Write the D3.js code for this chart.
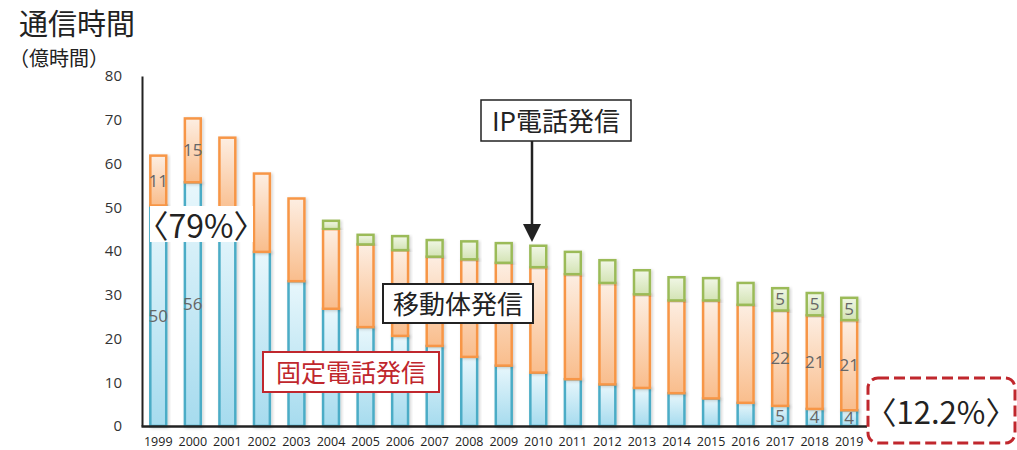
<!DOCTYPE html>
<html>
<head>
<meta charset="utf-8">
<script src="https://cdn.jsdelivr.net/npm/d3@7"></script>
<style>
  body { margin: 0; background: #fff; }
  svg { display: block; }
</style>
</head>
<body>
<div id="chart"></div>
<script>
// chart data (億時間)
const years = ["1999","2000","2001","2002","2003","2004","2005","2006","2007","2008","2009",
               "2010","2011","2012","2013","2014","2015","2016","2017","2018","2019"];
const fixedCalls  = [50.4, 55.7, 48.5, 39.8, 33.1, 26.8, 22.6, 20.6, 18.3, 15.8, 13.8,
                     12.2, 10.7, 9.5, 8.7, 7.5, 6.3, 5.3, 4.6, 3.9, 3.6];
const mobileCalls = [11.4, 14.6, 17.4, 17.9, 18.9, 18.2, 18.9, 19.6, 20.4, 22.3, 23.5,
                     24.1, 24.0, 23.2, 21.4, 21.2, 22.4, 22.4, 21.8, 21.4, 20.6];
const ipCalls     = [0, 0, 0, 0, 0, 1.9, 2.2, 3.2, 3.8, 4.1, 4.5,
                     4.9, 5.1, 5.2, 5.5, 5.3, 5.1, 5.0, 5.1, 5.1, 5.1];
const yTicks = [0, 10, 20, 30, 40, 50, 60, 70, 80];
const labelledYears = ["1999", "2000", "2017", "2018", "2019"];

const width = 1017;
const height = 450;
const cjk = "'Noto Sans CJK JP', sans-serif";
const num = "'Open Sans', 'DejaVu Sans', sans-serif";

const svg = d3.select("#chart")
    .append("svg")
    .attr("width", width)
    .attr("height", height);

const rows = years.map((y, i) => ({ year: y, fixed: fixedCalls[i], mobile: mobileCalls[i], ip: ipCalls[i] }));
const keys = ["fixed", "mobile", "ip"];
const stack = d3.stack().keys(keys)(rows);

const x = d3.scaleBand()
    .domain(years)
    .range([141, 866.5])
    .paddingInner(0.54)
    .paddingOuter(0.27);

const y = d3.scaleLinear()
    .domain([0, 80])
    .range([426, 76]);

// colours for each series: stroke, top of gradient, bottom of gradient
const colors = {
    fixed:  { stroke: "#4bacc6", top: "#e8f7fc", bottom: "#a6dbee" },
    mobile: { stroke: "#f79646", top: "#fdeee2", bottom: "#f9bd8c" },
    ip:     { stroke: "#9bbb59", top: "#f1f7e6", bottom: "#d3e3b4" }
};

const defs = svg.append("defs");
keys.forEach(k => {
    const g = defs.append("linearGradient")
        .attr("id", "grad-" + k)
        .attr("x1", "0%").attr("y1", "0%")
        .attr("x2", "0%").attr("y2", "100%");
    g.append("stop").attr("offset", "0%").attr("stop-color", colors[k].top);
    g.append("stop").attr("offset", "100%").attr("stop-color", colors[k].bottom);
});
const shadow = defs.append("filter").attr("id", "shadow")
    .attr("x", "-30%").attr("y", "-10%").attr("width", "160%").attr("height", "120%");
shadow.append("feDropShadow")
    .attr("dx", 1.5).attr("dy", 1).attr("stdDeviation", 1.5)
    .attr("flood-color", "#000").attr("flood-opacity", 0.18);

// title
svg.append("text")
    .attr("x", 19).attr("y", 35)
    .style("font-family", cjk).style("font-size", "29px").attr("fill", "#222")
    .text("通信時間");
svg.append("text")
    .attr("x", 9).attr("y", 66)
    .style("font-family", cjk).style("font-size", "20px").attr("fill", "#222")
    .text("（億時間）");

// bars
const layers = svg.append("g")
    .selectAll("g")
    .data(stack)
    .enter().append("g");

layers.selectAll("rect")
    .data(d => d.map(p => ({ key: d.key, p: p })).filter(e => e.p[1] - e.p[0] > 0))
    .enter().append("rect")
    .attr("x", d => x(d.p.data.year))
    .attr("y", d => y(d.p[1]))
    .attr("width", x.bandwidth())
    .attr("height", d => y(d.p[0]) - y(d.p[1]))
    .attr("fill", d => "url(#grad-" + d.key + ")")
    .attr("stroke", d => colors[d.key].stroke)
    .attr("stroke-width", 2.5)
    .attr("filter", "url(#shadow)");

// value labels
layers.selectAll("text")
    .data(d => d.map(p => ({ key: d.key, p: p }))
        .filter(e => labelledYears.includes(e.p.data.year) && e.p[1] - e.p[0] > 0))
    .enter().append("text")
    .attr("x", d => x(d.p.data.year) + x.bandwidth() / 2)
    .attr("y", d => y((d.p[0] + d.p[1]) / 2))
    .attr("dy", "0.35em")
    .attr("text-anchor", "middle")
    .style("font-family", num).style("font-size", "17px")
    .attr("fill", "#666")
    .text(d => Math.round(d.p[1] - d.p[0]));

// axes
const yAxis = svg.append("g")
    .attr("transform", "translate(142,0)")
    .call(d3.axisLeft(y).tickValues(yTicks).tickSize(0).tickPadding(20));
yAxis.select(".domain").attr("stroke", "#222").attr("stroke-width", 2);
yAxis.selectAll("text")
    .style("font-family", num).style("font-size", "15px").attr("fill", "#333");

const xAxis = svg.append("g")
    .attr("transform", "translate(0,426)")
    .call(d3.axisBottom(x).tickSize(0).tickPadding(11).tickSizeOuter(0));
xAxis.select(".domain").attr("stroke", "#222").attr("stroke-width", 2.5);
xAxis.selectAll("text")
    .style("font-family", num).style("font-size", "12.5px").attr("fill", "#222");

// annotation: 〈79%〉
svg.append("rect")
    .attr("x", 150).attr("y", 206).attr("width", 103).attr("height", 36)
    .attr("fill", "#fff");
svg.append("text")
    .attr("x", 201).attr("y", 238)
    .attr("text-anchor", "middle")
    .style("font-family", cjk).style("font-size", "32px").attr("fill", "#222")
    .text("〈79%〉");

// annotation: IP電話発信 with arrow
svg.append("rect")
    .attr("x", 481).attr("y", 100).attr("width", 150).attr("height", 41)
    .attr("fill", "#fff").attr("stroke", "#222").attr("stroke-width", 1.5);
svg.append("text")
    .attr("x", 556).attr("y", 131)
    .attr("text-anchor", "middle")
    .style("font-family", cjk).style("font-size", "26px").attr("fill", "#222")
    .text("IP電話発信");
svg.append("line")
    .attr("x1", 532).attr("y1", 141).attr("x2", 532).attr("y2", 226)
    .attr("stroke", "#222").attr("stroke-width", 2.5);
svg.append("path")
    .attr("d", "M523,224 L541,224 L532,242 Z")
    .attr("fill", "#222");

// annotation: 移動体発信
svg.append("rect")
    .attr("x", 383).attr("y", 284).attr("width", 150).attr("height", 39)
    .attr("fill", "#fff").attr("stroke", "#222").attr("stroke-width", 2);
svg.append("text")
    .attr("x", 458).attr("y", 314)
    .attr("text-anchor", "middle")
    .style("font-family", cjk).style("font-size", "26px").attr("fill", "#222")
    .text("移動体発信");

// annotation: 固定電話発信
svg.append("rect")
    .attr("x", 263).attr("y", 352).attr("width", 176).attr("height", 40)
    .attr("fill", "#fff").attr("stroke", "#c0272d").attr("stroke-width", 2);
svg.append("text")
    .attr("x", 351).attr("y", 382)
    .attr("text-anchor", "middle")
    .style("font-family", cjk).style("font-size", "25px").attr("fill", "#c0272d")
    .text("固定電話発信");

// annotation: 〈12.2%〉 dashed box
svg.append("rect")
    .attr("x", 868).attr("y", 378).attr("width", 147).attr("height", 65)
    .attr("rx", 10).attr("ry", 10)
    .attr("fill", "#fff").attr("stroke", "#c0272d").attr("stroke-width", 3)
    .attr("stroke-dasharray", "11,5");
svg.append("text")
    .attr("x", 941).attr("y", 424)
    .attr("text-anchor", "middle")
    .style("font-family", cjk).style("font-size", "31px").attr("fill", "#222")
    .text("〈12.2%〉");
</script>
</body>
</html>
